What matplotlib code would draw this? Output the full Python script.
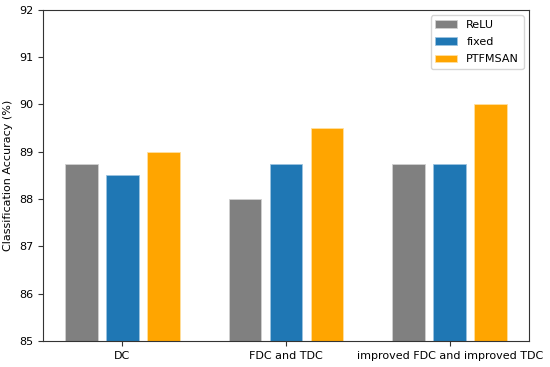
import matplotlib.pyplot as plt
import numpy as np

categories = ['DC', 'FDC and TDC', 'improved FDC and improved TDC']
relu = [88.75, 88.0, 88.75]
fixed = [88.5, 88.75, 88.75]
ptfmsan = [89.0, 89.5, 90.0]

fig = plt.figure(figsize=(5.5, 3.67), dpi=100)
ax = fig.add_axes([0.078, 0.071, 0.884, 0.902])

x = np.arange(len(categories))
w = 0.2
ax.bar(x - 0.25, relu, w, color='gray', edgecolor='#d0d0d0', linewidth=0.6, label='ReLU')
ax.bar(x, fixed, w, color='#1f77b4', edgecolor='#9cc3e0', linewidth=0.6, label='fixed')
ax.bar(x + 0.25, ptfmsan, w, color='orange', edgecolor='#ffe0a0', linewidth=0.6, label='PTFMSAN')

ax.set_ylim(85, 92)
ax.set_xticks(x)
ax.set_xticklabels(categories)
ax.set_ylabel('Classification Accuracy (%)', fontsize=8)
ax.tick_params(labelsize=8, color='#333333')
for s in ax.spines.values():
    s.set_color('#333333')
ax.legend(fontsize=8, loc='upper right', labelspacing=0.65)

fig.savefig('out.png', dpi=100)
